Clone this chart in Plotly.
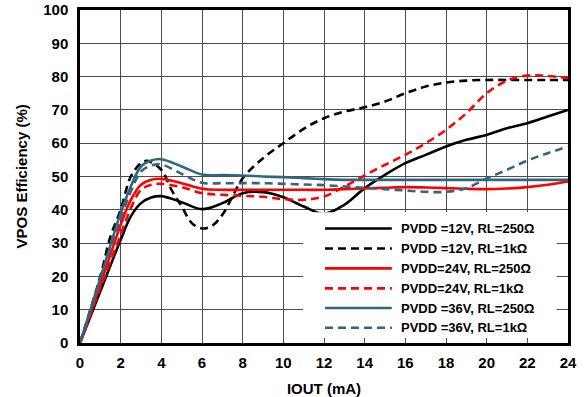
import plotly.graph_objects as go

# IOUT (mA) sample points
iout = [0, 1, 2, 2.5, 3, 3.5, 4, 5, 6, 7, 8, 9, 10, 11, 12, 13, 14, 15, 16, 17, 18, 19, 20, 21, 22, 23, 24]
iout_12v_1k = [0, 1, 1.5, 2, 2.5, 3, 3.3, 4, 4.5, 5, 5.5, 6, 6.5, 7, 7.5, 8, 9, 10, 11, 12, 13, 14,
               15, 16, 17, 18, 19, 20, 21, 22, 23, 24]

# efficiency (%)
eff_12v_250 = [0, 15.5, 31, 38, 42, 43.7, 44.1, 42.3, 40.2, 42, 45, 45.3, 43.8, 41, 38.8, 41.5, 46.5,
               50.5, 54, 56.5, 59, 61, 62.5, 64.5, 66, 68, 70]
eff_12v_1k = [0, 20, 32, 40, 50, 54, 54.7, 52, 46, 41, 36, 34.4, 35.2, 38.5, 44, 49.5, 55.5, 60,
              64.3, 67.5, 69.5, 70.8, 72.5, 75, 77, 78.2, 78.8, 79, 79, 79, 79, 79]
eff_24v_250 = [0, 17.5, 35.5, 43, 47.5, 49, 49.3, 48, 46.3, 46, 46, 46, 46, 46, 46, 46.2, 46.4,
               46.6, 46.8, 46.7, 46.5, 46.3, 46.2, 46.4, 46.8, 47.5, 48.5]
eff_24v_1k = [0, 16.5, 32.5, 40.5, 46, 47.5, 47.8, 46.8, 45, 44.5, 44.2, 43.9, 43.2, 43, 44, 47, 50.3,
              53.5, 56.5, 60, 64, 69, 75, 78.8, 80.3, 80.2, 79.5]
eff_36v_250 = [0, 19.5, 39, 47, 53, 54.8, 55.2, 53, 50.6, 50.4, 50.3, 50, 49.8, 49.5, 49.2, 49, 49,
               49, 49, 49, 49, 49, 49, 49, 49, 49, 49]
eff_36v_1k = [0, 19, 37.5, 45.5, 51.5, 53.3, 53.6, 50.8, 48.1, 48, 48, 48, 47.8, 47.6, 47.4, 47, 46.6,
              46.2, 45.8, 45.4, 45.4, 46.5, 49.4, 52, 54.8, 57, 59]

x_ticks = list(range(0, 25, 2))
y_ticks = list(range(0, 101, 10))

BLUE = "#34657f"
DASH = "8px,5px"
FONT = "Liberation Sans, Arial"
BOLD15 = dict(family=FONT, size=15, color="black", weight="bold")

series = [
    ("PVDD =12V, RL=250Ω", iout, eff_12v_250, "black", "solid"),
    ("PVDD =12V, RL=1kΩ", iout_12v_1k, eff_12v_1k, "black", DASH),
    ("PVDD=24V, RL=250Ω", iout, eff_24v_250, "red", "solid"),
    ("PVDD=24V, RL=1kΩ", iout, eff_24v_1k, "red", DASH),
    ("PVDD =36V, RL=250Ω", iout, eff_36v_250, BLUE, "solid"),
    ("PVDD =36V, RL=1kΩ", iout, eff_36v_1k, BLUE, DASH),
]

fig = go.Figure()
for name, x, y, color, dash in series:
    fig.add_trace(go.Scatter(
        x=x, y=y, name=name, mode="lines", showlegend=False,
        line=dict(color=color, width=2.6, dash=dash, shape="spline", smoothing=1.0),
    ))

# legend drawn by hand so the line samples are long like the original
fig.add_shape(type="rect", xref="paper", yref="paper", x0=0.457, x1=0.977, y0=0.015, y1=0.393,
              fillcolor="white", line_width=0, layer="above")
row_y = [0.344, 0.284, 0.224, 0.164, 0.105, 0.046]
for (name, _, _, color, dash), ry in zip(series, row_y):
    fig.add_shape(type="line", xref="paper", yref="paper", x0=0.502, x1=0.639, y0=ry, y1=ry,
                  line=dict(color=color, width=2.6, dash=dash), layer="above")
    fig.add_annotation(text=name, xref="paper", yref="paper", x=0.654, y=ry,
                       xanchor="left", yanchor="middle", showarrow=False,
                       font=dict(family=FONT, size=13, color="black", weight="bold"))

# y title as an annotation for exact placement
fig.add_annotation(text="VPOS Efficiency (%)", xref="paper", yref="paper", x=-0.119, y=0.5,
                   xanchor="center", yanchor="middle", textangle=-90, showarrow=False,
                   font=BOLD15)

axis_common = dict(
    showgrid=True, gridcolor="#4d4d4d", gridwidth=1,
    showline=True, linecolor="black", linewidth=2.5, mirror=True,
    ticks="", zeroline=False, automargin=False,
    tickfont=BOLD15,
)

fig.update_xaxes(range=[0, 24], tickvals=x_ticks, title_text="IOUT (mA)", title_font=BOLD15,
                 title_standoff=14, ticklabelstandoff=4, **axis_common)
fig.update_yaxes(range=[0, 100], tickvals=y_ticks, ticklabelstandoff=6, **axis_common)

fig.update_layout(
    width=584, height=397,
    margin=dict(l=80, r=16, t=10, b=54),
    paper_bgcolor="white", plot_bgcolor="white",
    showlegend=False,
)

fig.write_html("out.html", config={"displayModeBar": False},
               post_script="document.body.style.margin='0';")
